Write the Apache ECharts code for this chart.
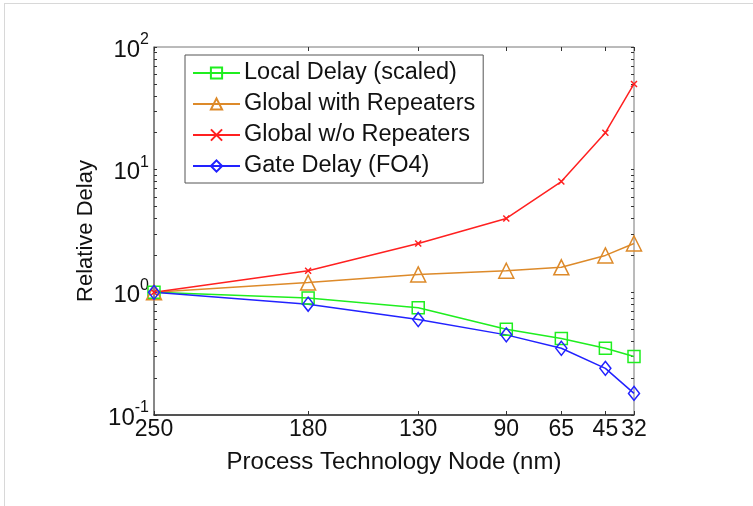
<!DOCTYPE html>
<html>
<head>
<meta charset="utf-8">
<script src="https://cdn.jsdelivr.net/npm/echarts@6/dist/echarts.min.js"></script>
<style>
  html, body { margin: 0; padding: 0; background: #fff; }
  #frame { position: absolute; left: 4px; top: 3px; width: 760px; height: 510px;
           border-left: 1px solid #d8d8d8; border-top: 1px solid #d8d8d8; }
  #main { position: absolute; left: 0; top: 0; width: 753px; height: 506px; }
</style>
</head>
<body>
<div id="frame"></div>
<div id="main"></div>
<script>
// process nodes (nm) on the x axis
var nodes = [250, 180, 130, 90, 65, 45, 32];
// relative delay, normalised to 250nm
var localDelay = [1, 0.9, 0.75, 0.5, 0.42, 0.35, 0.3];
var globalRep = [1, 1.2, 1.4, 1.5, 1.6, 2, 2.5];
var globalNoRep = [1, 1.5, 2.5, 4, 8, 20, 50];
var gateDelay = [1, 0.8, 0.6, 0.45, 0.35, 0.24, 0.15];
var yLabels = [0.1, 1, 10, 100];
var yMinor = [0.2, 0.3, 0.4, 0.5, 0.6, 0.7, 0.8, 0.9, 2, 3, 4, 5, 6, 7, 8, 9, 20, 30, 40, 50, 60, 70, 80, 90];

var FONT = 'Liberation Sans';

function pairs(ys) {
    var res = [];
    for (var i = 0; i < nodes.length; i++) {
        res.push([nodes[i], ys[i]]);
    }
    return res;
}

function mkSeries(name, ys, color, symbol, size) {
    return {
        name: name,
        type: 'line',
        data: pairs(ys),
        symbol: symbol,
        symbolSize: size,
        showAllSymbol: true,
        lineStyle: { color: color, width: 1.5 },
        itemStyle: { color: 'rgba(255,255,255,0)', borderColor: color, borderWidth: 1.5 },
        emphasis: { disabled: true },
        animation: false
    };
}

var myChart = echarts.init(document.getElementById('main'));

var xTickOpt = { show: true, inside: true, length: 4, customValues: nodes, lineStyle: { color: '#333' } };
var yTickOpt = { show: true, inside: true, length: 3, customValues: yLabels.concat(yMinor), lineStyle: { color: '#333' } };

option = {
    backgroundColor: 'transparent',
    grid: {
        left: 154, right: 119, top: 47, bottom: 91,
        show: true, borderColor: '#777', borderWidth: 1
    },
    legend: {
        orient: 'vertical',
        left: 185, top: 55,
        padding: [6, 8, 5, 7],
        borderColor: '#555', borderWidth: 1,
        itemWidth: 47, itemHeight: 14, itemGap: 7,
        textStyle: { fontFamily: FONT, fontSize: 23.5, lineHeight: 24, color: '#111', padding: [0, 0, 0, -1] },
        data: ['Local Delay (scaled)', 'Global with Repeaters', 'Global w/o Repeaters', 'Gate Delay (FO4)']
    },
    xAxis: [{
        type: 'value',
        min: 32, max: 250,
        inverse: true,
        name: 'Process Technology Node (nm)',
        nameLocation: 'middle',
        nameGap: 35,
        nameTextStyle: { fontFamily: FONT, fontSize: 24, color: '#111' },
        axisLine: { show: true, lineStyle: { color: '#333', width: 1.5 } },
        axisTick: xTickOpt,
        axisLabel: {
            customValues: nodes,
            fontFamily: FONT, fontSize: 23, color: '#111', margin: 3
        },
        splitLine: { show: false }
    }, {
        type: 'value',
        position: 'top',
        min: 32, max: 250,
        inverse: true,
        axisLine: { show: false },
        axisTick: xTickOpt,
        axisLabel: { show: false },
        splitLine: { show: false }
    }],
    yAxis: [{
        type: 'log',
        logBase: 10,
        min: 0.1, max: 100,
        name: 'Relative Delay',
        nameLocation: 'middle',
        nameGap: 51,
        nameTextStyle: { fontFamily: FONT, fontSize: 22, color: '#111' },
        axisLine: { show: true, lineStyle: { color: '#777', width: 1.5 } },
        axisTick: yTickOpt,
        axisLabel: {
            customValues: yLabels,
            margin: 5,
            formatter: function (v) {
                var e = Math.round(Math.log(v) / Math.LN10);
                return '{b|10}{s|' + e + '}';
            },
            rich: {
                b: { fontFamily: FONT, fontSize: 24, color: '#111', verticalAlign: 'bottom', padding: [6, 0, 0, 0] },
                s: { fontFamily: FONT, fontSize: 16, color: '#111', verticalAlign: 'bottom', padding: [0, 0, 14, 0] }
            }
        },
        splitLine: { show: false },
        minorTick: { show: false }
    }, {
        type: 'log',
        logBase: 10,
        min: 0.1, max: 100,
        position: 'right',
        axisLine: { show: false },
        axisTick: yTickOpt,
        axisLabel: { show: false },
        splitLine: { show: false }
    }],
    series: [
        mkSeries('Local Delay (scaled)', localDelay, '#1fee1f', 'rect', 12),
        mkSeries('Global with Repeaters', globalRep, '#dd8a2a', 'triangle', 15),
        mkSeries('Global w/o Repeaters', globalNoRep, '#ff2020', 'path://M0,0L10,10M10,0L0,10', 6),
        mkSeries('Gate Delay (FO4)', gateDelay, '#2222ff', 'diamond', [11, 14])
    ]
};

myChart.setOption(option);
window.addEventListener('resize', function () {
    myChart.resize();
});
</script>
</body>
</html>
